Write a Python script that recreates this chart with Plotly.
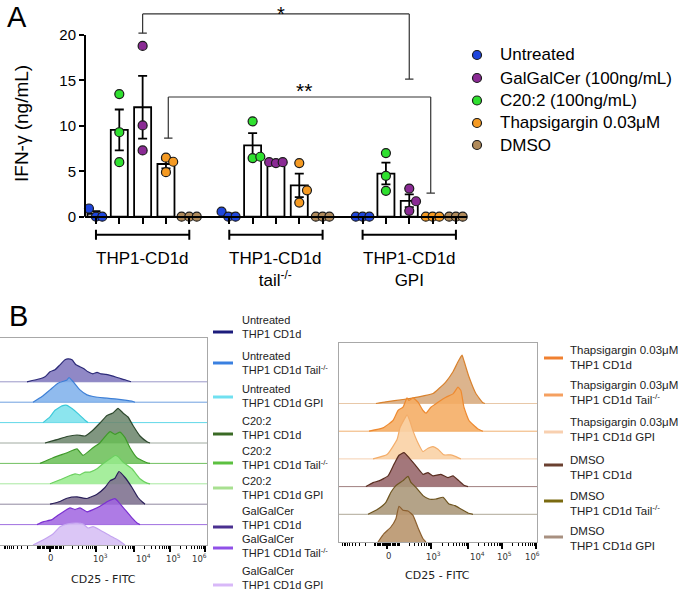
import math
import plotly.graph_objects as go

W, H = 678, 590
FONT = "Liberation Sans, Arial, sans-serif"


def fx(p):
    return p / W


def fy(p):
    return 1 - p / H


# ---------------- Panel A data ----------------
group_labels = ["THP1-CD1d", "THP1-CD1d<br>tail<sup>-/-</sup>", "THP1-CD1d<br>GPI"]
treatments = ["Untreated", "C20:2 (100ng/mL)", "GalGalCer (100ng/mL)", "Thapsigargin 0.03μM", "DMSO"]
treat_colors = ["#1f46dc", "#2fe02f", "#8a2a94", "#f59a22", "#b08a5a"]
legend_order = ["Untreated", "GalGalCer (100ng/mL)", "C20:2 (100ng/mL)", "Thapsigargin 0.03μM", "DMSO"]

mean_untreated = [0.30, 0.18, 0.00]
mean_c202 = [9.55, 7.85, 4.75]
mean_galgal = [12.05, 5.95, 1.75]
mean_thaps = [5.80, 3.45, 0.00]
mean_dmso = [0.00, 0.00, 0.00]

sem_untreated = [0.30, 0.18, 0.00]
sem_c202 = [2.25, 1.35, 1.20]
sem_galgal = [3.45, 0.05, 0.70]
sem_thaps = [0.48, 1.30, 0.00]
sem_dmso = [0.00, 0.00, 0.00]

pts_untreated = [[0.90, 0.0, 0.0], [0.55, 0.0, 0.0], [0.0, 0.0, 0.0]]
pts_c202 = [[13.5, 9.3, 6.0], [10.5, 6.45, 6.6], [7.0, 4.5, 2.85]]
pts_galgal = [[18.8, 10.05, 7.3], [6.0, 5.9, 6.0], [3.1, 1.7, 0.65]]
pts_thaps = [[6.5, 6.05, 4.9], [5.9, 2.9, 1.55], [0.0, 0.0, 0.0]]
pts_dmso = [[0.0, 0.0, 0.0], [0.0, 0.0, 0.0], [0.0, 0.0, 0.0]]

jit_untreated = [[-0.30, 0.0, 0.27], [-0.33, -0.04, 0.27], [-0.29, 0.0, 0.29]]
jit_c202 = [[0.0, 0.0, 0.0], [0.0, 0.0, 0.33], [0.0, 0.0, 0.0]]
jit_galgal = [[0.0, 0.0, 0.0], [-0.29, 0.0, 0.29], [0.0, 0.29, 0.0]]
jit_thaps = [[0.0, 0.31, 0.0], [0.0, 0.33, 0.0], [-0.29, 0.0, 0.29]]
jit_dmso = [[-0.33, 0.0, 0.32], [-0.29, 0.0, 0.29], [-0.29, 0.0, 0.29]]

means = [mean_untreated, mean_c202, mean_galgal, mean_thaps, mean_dmso]
sems = [sem_untreated, sem_c202, sem_galgal, sem_thaps, sem_dmso]
points = [pts_untreated, pts_c202, pts_galgal, pts_thaps, pts_dmso]
jitters = [jit_untreated, jit_c202, jit_galgal, jit_thaps, jit_dmso]

sig_labels = ["*", "**"]

# ---------------- Panel B data (CD25-FITC display channel vs. count) ----------------
left_names = ["Untreated<br>THP1 CD1d", "Untreated<br>THP1 CD1d Tail<sup>-/-</sup>", "Untreated<br>THP1 CD1d GPI",
              "C20:2<br>THP1 CD1d", "C20:2<br>THP1 CD1d Tail<sup>-/-</sup>", "C20:2<br>THP1 CD1d GPI",
              "GalGalCer<br>THP1 CD1d", "GalGalCer<br>THP1 CD1d Tail<sup>-/-</sup>", "GalGalCer<br>THP1 CD1d GPI"]
left_x = [
    [135, 200, 225, 250, 275, 300, 325, 340, 360, 380, 400, 420, 440, 465, 485, 505, 530, 560, 590, 625, 655],
    [165, 210, 250, 290, 335, 345, 365, 400, 435, 465, 500, 535, 575, 615, 665, 675],
    [215, 250, 275, 310, 335, 360, 390, 425, 440],
    [225, 285, 335, 385, 425, 460, 500, 535, 565, 590, 615, 640, 665, 700, 735, 750],
    [200, 265, 335, 385, 415, 465, 500, 535, 550, 575, 600, 625, 650, 685, 735, 750],
    [250, 300, 350, 375, 400, 425, 450, 485, 515, 550, 575, 590, 615, 660, 700, 735, 750],
    [250, 300, 335, 385, 435, 485, 525, 550, 575, 595, 625, 660, 690, 715, 725],
    [185, 215, 260, 290, 315, 350, 375, 400, 435, 465, 500, 540, 575, 590, 625, 660, 685, 700],
    [165, 215, 265, 300, 335, 385, 415, 440, 465, 500, 550, 590, 625],
]
left_h = [
    [0, 3, 5, 10, 12, 17, 22, 23, 22, 17, 15, 13, 10, 8, 9.5, 8, 7.5, 6, 4, 2, 0],
    [0, 5.7, 12.3, 19, 22.3, 24.7, 20.7, 12.3, 7.3, 5.7, 4.7, 4, 3.3, 2.3, 0.7, 0],
    [0, 5.7, 12.3, 16.7, 17.3, 14, 9, 2.3, 0],
    [0, 3.3, 6.5, 8, 7, 12, 20, 27.5, 30, 34.7, 30, 26, 17.5, 7, 1.3, 0],
    [0, 5.7, 10.7, 14.5, 8, 15.7, 20.7, 29, 31.7, 29, 31.3, 25.7, 15.7, 5.7, 0.7, 0],
    [0, 4, 8.3, 10, 9, 11.7, 11.7, 15, 20, 25, 28.3, 27.3, 21.7, 15, 5, 0.7, 0],
    [0, 2.7, 6, 7.3, 5.7, 10, 16.7, 23.3, 26, 32.7, 26.7, 16.7, 6.7, 1.7, 0],
    [0, 2.7, 5, 9.3, 12.7, 16.7, 15, 16.7, 12.7, 15, 18.3, 23.3, 26, 23.3, 15, 6.7, 1.7, 0],
    [0, 5, 11, 18.3, 21, 22, 21, 17, 18.3, 15, 9.3, 5, 0],
]
left_line_colors = ["#2c2a78", "#3d7fd6", "#3cc9d9", "#2f4a2f", "#3f9a2a", "#6cd060", "#2a1f5a", "#7a30d0", "#c4a4f0"]
left_fill_colors = ["rgba(125,115,188,0.85)", "rgba(125,175,235,0.85)", "rgba(120,225,235,0.85)",
                    "rgba(110,135,110,0.88)", "rgba(105,190,85,0.85)", "rgba(150,235,140,0.85)",
                    "rgba(125,112,142,0.88)", "rgba(160,100,225,0.85)", "rgba(215,192,245,0.9)"]
left_base_colors = ["#9a98c8", "#6ea0e0", "#60d8e8", "#a0aaa0", "#70c060", "#a8e8a0", "#9088a0", "#a070e0", "#a0a0a0"]
left_swatch_colors = ["#1c1c7c", "#3a80e0", "#70e0f0", "#3a6a25", "#5cc040", "#a8e090", "#4a3090", "#9050e8", "#d8b8f8"]

right_names = ["Thapsigargin 0.03μM<br>THP1 CD1d", "Thapsigargin 0.03μM<br>THP1 CD1d Tail<sup>-/-</sup>",
               "Thapsigargin 0.03μM<br>THP1 CD1d GPI", "DMSO<br>THP1 CD1d",
               "DMSO<br>THP1 CD1d Tail<sup>-/-</sup>", "DMSO<br>THP1 CD1d GPI"]
right_x = [
    [192, 244, 333, 416, 489, 520, 556, 593, 619, 640, 650, 676, 712, 749, 759],
    [156, 229, 281, 307, 333, 354, 364, 385, 411, 437, 452, 478, 515, 556, 593, 619, 634, 650, 676, 723, 749],
    [177, 250, 302, 317, 338, 354, 369, 385, 406, 437, 463, 489, 515, 546, 582, 608, 634],
    [140, 177, 208, 255, 286, 312, 338, 364, 400, 437, 463, 489, 530, 567, 593, 624, 650, 671],
    [151, 203, 244, 270, 296, 333, 359, 374, 400, 437, 468, 504, 541, 572, 603, 634, 671, 697],
    [203, 234, 270, 296, 312, 333, 359, 385, 411, 437, 452],
]
right_h = [
    [0, 1.7, 4, 6.7, 10, 15, 21.7, 31.7, 41.7, 48.3, 42.7, 26.7, 10, 0.7, 0],
    [0, 3.3, 10.7, 20.7, 24, 33.3, 30.7, 33.3, 29, 20.7, 18, 24, 29, 34, 37.3, 44, 40.7, 24, 10.7, 2.3, 0],
    [0, 4.3, 19.3, 31, 39, 44, 37.7, 28, 18, 7.3, 10.7, 12.3, 9.7, 4, 4, 2.3, 0],
    [0, 4, 5.7, 10.7, 22.3, 31.3, 34, 29, 20.7, 12.3, 14, 10.7, 12.3, 9, 10.7, 5.7, 1.3, 0],
    [0, 5.3, 12, 22, 28.7, 33.7, 38, 32, 27, 18.7, 15.3, 15.3, 17, 10.3, 8.7, 5.3, 1.3, 0],
    [0, 8.3, 15, 23.3, 35.7, 31.7, 31, 26.7, 14.3, 3.3, 0],
]
right_line_colors = ["#d9822e", "#ee8a30", "#f3ad6a", "#5a2e20", "#6e5520", "#8c6030"]
right_fill_colors = ["rgba(215,170,125,0.88)", "rgba(245,172,98,0.88)", "rgba(250,210,165,0.9)",
                     "rgba(150,100,105,0.88)", "rgba(170,150,120,0.88)", "rgba(185,150,110,0.9)"]
right_base_colors = ["#e8c8a8", "#f0b070", "#f5d0b0", "#a08080", "#b0a898", "#a0a0a0"]
right_swatch_colors = ["#f08030", "#f5a060", "#f8d0b0", "#6a4030", "#7a6a10", "#a89080"]

cd25_tick_text = ["0", "10<sup>3</sup>", "10<sup>4</sup>", "10<sup>5</sup>", "10<sup>6</sup>"]
cd25_tick_vals = [250, 480, 670, 850, 1025]

fig = go.Figure()

# ---------------- Panel A ----------------
GAP = 0.714
pos = [[g * (5 + GAP) + s for g in range(3)] for s in range(5)]

for t in range(5):
    fig.add_trace(go.Bar(
        x=pos[t], y=means[t], width=0.73,
        marker=dict(color="white", line=dict(color="black", width=1.8)),
        error_y=dict(type="data", array=sems[t], color="black", thickness=1.8, width=4.5),
        xaxis="x", yaxis="y", hoverinfo="skip", showlegend=False))

for t in range(5):
    xs, ys = [], []
    for g in range(3):
        for k in range(3):
            xs.append(pos[t][g] + jitters[t][g][k])
            ys.append(points[t][g][k])
    fig.add_trace(go.Scatter(
        x=xs, y=ys, mode="markers", cliponaxis=False,
        marker=dict(size=9, color=treat_colors[t], line=dict(color="#1a1a1a", width=1.2)),
        xaxis="x", yaxis="y", hoverinfo="skip", showlegend=False))

shapes = []
annotations = []

shapes.append(dict(type="line", xref="x domain", yref="y", x0=0, x1=0, y0=0, y1=20,
                   line=dict(color="black", width=2)))
for g in range(3):
    a, b = pos[0][g], pos[4][g]
    shapes.append(dict(type="line", xref="x", yref="y", x0=a, x1=b, y0=-2.0, y1=-2.0,
                       line=dict(color="black", width=2)))
    for e in (a, b):
        shapes.append(dict(type="line", xref="x", yref="y", x0=e, x1=e, y0=-2.55, y1=-1.45,
                           line=dict(color="black", width=2)))
    annotations.append(dict(x=pos[2][g], y=-3.3, xref="x", yref="y", text=group_labels[g],
                            showarrow=False, xanchor="center", yanchor="top",
                            font=dict(family=FONT, size=17, color="black")))

sig_lines = [
    (pos[2][0], pos[2][2], 22.32, 20.2, 15.15),
    (pos[3][0] + 0.1, pos[3][2] - 0.08, 13.18, 8.65, 2.6),
]
for idx, ((xa, xb, ytop, ya, yb), lab) in enumerate(zip(sig_lines, sig_labels)):
    c = "#333333"
    shapes.append(dict(type="line", xref="x", yref="y", x0=xa, x1=xb, y0=ytop, y1=ytop, line=dict(color=c, width=1.2)))
    shapes.append(dict(type="line", xref="x", yref="y", x0=xa, x1=xa, y0=ytop, y1=ya, line=dict(color=c, width=1.2)))
    shapes.append(dict(type="line", xref="x", yref="y", x0=xb, x1=xb, y0=ytop, y1=yb, line=dict(color=c, width=1.2)))
    shapes.append(dict(type="line", xref="x", yref="y", x0=xa - 0.18, x1=xa + 0.18, y0=ya, y1=ya, line=dict(color=c, width=1.2)))
    shapes.append(dict(type="line", xref="x", yref="y", x0=xb - 0.18, x1=xb + 0.18, y0=yb, y1=yb, line=dict(color=c, width=1.2)))
    if idx == 0:
        annotations.append(dict(x=(xa + xb) / 2 + 0.2, y=fy(0), xref="x", yref="paper", text=lab,
                                showarrow=False, xanchor="center", yanchor="top", yshift=-1,
                                font=dict(family=FONT, size=20, color="black")))
    else:
        annotations.append(dict(x=(xa + xb) / 2 + 0.2, y=ytop, xref="x", yref="y", text=lab, showarrow=False,
                                xanchor="center", yanchor="bottom", yshift=-7,
                                font=dict(family=FONT, size=21, color="black")))

annotations.append(dict(x=fx(21), y=fy(124), xref="paper", yref="paper", text="IFN-γ (ng/mL)",
                        textangle=-90, showarrow=False, xanchor="center", yanchor="middle",
                        font=dict(family=FONT, size=19, color="black")))
annotations.append(dict(x=fx(17), y=fy(17), xref="paper", yref="paper", text="A", showarrow=False,
                        xanchor="center", yanchor="middle", font=dict(family=FONT, size=29, color="black")))
annotations.append(dict(x=fx(18), y=fy(316), xref="paper", yref="paper", text="B", showarrow=False,
                        xanchor="center", yanchor="middle", font=dict(family=FONT, size=29, color="black")))

leg_y = [55, 78, 100.5, 123, 145]
for i, name in enumerate(legend_order):
    t = treatments.index(name)
    shapes.append(dict(type="circle", xref="paper", yref="paper", xsizemode="pixel", ysizemode="pixel",
                       xanchor=fx(477), yanchor=fy(leg_y[i]), x0=-4.5, x1=4.5, y0=-4.5, y1=4.5,
                       fillcolor=treat_colors[t], line=dict(color="#1a1a1a", width=1.2)))
    annotations.append(dict(x=fx(498), y=fy(leg_y[i]), xref="paper", yref="paper", text=name,
                            showarrow=False, xanchor="left", yanchor="middle",
                            font=dict(family=FONT, size=17, color="black")))

# ---------------- Panel B ----------------
L_SP = 20.4
R_SP = 27.7
nL, nR = len(left_x), len(right_x)
for i in range(nL):
    b = (nL - 1 - i) * L_SP
    if i < nL - 1:
        fig.add_trace(go.Scatter(x=[0, 1035], y=[b, b], mode="lines", line=dict(color=left_base_colors[i], width=1),
                                 xaxis="x2", yaxis="y2", hoverinfo="skip", showlegend=False))
    fig.add_trace(go.Scatter(x=left_x[i], y=[b + h for h in left_h[i]], mode="lines", fill="toself",
                             fillcolor=left_fill_colors[i], line=dict(color=left_line_colors[i], width=1.2,
                                                                      shape="spline", smoothing=0.4),
                             xaxis="x2", yaxis="y2", hoverinfo="skip", showlegend=False))
for i in range(nR):
    b = (nR - 1 - i) * R_SP
    if i < nR - 1:
        fig.add_trace(go.Scatter(x=[0, 1030], y=[b, b], mode="lines", line=dict(color=right_base_colors[i], width=1),
                                 xaxis="x3", yaxis="y3", hoverinfo="skip", showlegend=False))
    fig.add_trace(go.Scatter(x=right_x[i], y=[b + h for h in right_h[i]], mode="lines", fill="toself",
                             fillcolor=right_fill_colors[i], line=dict(color=right_line_colors[i], width=1.2,
                                                                       shape="spline", smoothing=0.4),
                             xaxis="x3", yaxis="y3", hoverinfo="skip", showlegend=False))

minor = []
dec = [315, 480, 670, 850, 1025]
for a, b in zip(dec[:-1], dec[1:]):
    for m in range(2, 10):
        minor.append(a + math.log10(m) * (b - a))
for k in range(1, 10):
    minor.append(250 + k * 6.5)
    minor.append(250 - k * 6.5)
for m in range(2, 10):
    minor.append(185 - math.log10(m) * 165)
minor += [185, 315, 20]

for ax, xs_lab, ylab, ytit, xtit in [
    ("x2", [250, 500, 715, 865, 995], 558, 579, 103),
    ("x3", [255, 494, 723, 863, 1004], 556, 575, 437),
]:
    for v, t in zip(xs_lab, cd25_tick_text):
        annotations.append(dict(x=v, y=fy(ylab), xref=ax, yref="paper", text=t, showarrow=False,
                                xanchor="center", yanchor="middle",
                                font=dict(family="DejaVu Sans, sans-serif", size=8.5, color="#333333")))
    annotations.append(dict(x=fx(xtit), y=fy(ytit), xref="paper", yref="paper", text="CD25 - FITC",
                            showarrow=False, xanchor="center", yanchor="middle",
                            font=dict(family="DejaVu Sans, sans-serif", size=11, color="#222222")))

left_sw_y = [332, 363, 397, 434, 463, 488, 527, 548, 585]
left_tx_y = [326.5, 362.5, 395.5, 427.5, 457.5, 487.5, 518, 546, 578]
for i in range(nL):
    shapes.append(dict(type="line", xref="paper", yref="paper", x0=fx(213), x1=fx(233),
                       y0=fy(left_sw_y[i]), y1=fy(left_sw_y[i]), line=dict(color=left_swatch_colors[i], width=3)))
    annotations.append(dict(x=fx(240), y=fy(left_tx_y[i]), xref="paper", yref="paper", text=left_names[i],
                            showarrow=False, xanchor="left", yanchor="middle", align="left",
                            font=dict(family=FONT, size=11, color="#222222")))
right_sw_y = [358, 395, 432, 465, 501, 537]
right_tx_y = [357.5, 392.5, 429, 467.5, 503.5, 538]
for i in range(nR):
    shapes.append(dict(type="line", xref="paper", yref="paper", x0=fx(544), x1=fx(563),
                       y0=fy(right_sw_y[i]), y1=fy(right_sw_y[i]), line=dict(color=right_swatch_colors[i], width=3)))
    annotations.append(dict(x=fx(568), y=fy(right_tx_y[i]), xref="paper", yref="paper", text=right_names[i],
                            showarrow=False, xanchor="left", yanchor="middle", align="left",
                            font=dict(family=FONT, size=11.5, color="#222222")))

A_PX0, A_PX1 = 85, 466.7
Y0PX, YSC = 216.7, 9.083
ya_lo, ya_hi = -9, 23

common_b_x = dict(showline=True, linecolor="#a8a8a8", linewidth=1, mirror=True, ticks="outside",
                  tickvals=cd25_tick_vals, ticklen=6, tickwidth=1.6, tickcolor="black", showticklabels=False,
                  minor=dict(tickmode="array", tickvals=minor, ticklen=3, tickwidth=1.4, tickcolor="black",
                             ticks="outside"),
                  showgrid=False, zeroline=False, fixedrange=True)
common_b_y = dict(showline=True, linecolor="#a8a8a8", linewidth=1, mirror=True, ticks="",
                  showticklabels=False, showgrid=False, zeroline=False, fixedrange=True)

fig.update_layout(
    width=W, height=H, margin=dict(l=0, r=0, t=0, b=0),
    paper_bgcolor="white", plot_bgcolor="rgba(0,0,0,0)",
    showlegend=False, barmode="overlay",
    font=dict(family=FONT, color="black"),
    xaxis=dict(domain=[fx(A_PX0), fx(A_PX1)], range=[-0.47, 15.89], anchor="free",
               position=fy(Y0PX), showline=True, linewidth=2, linecolor="black",
               ticks="outside", tickvals=[p for row in pos for p in row], ticklen=6, tickwidth=2,
               tickcolor="black", showticklabels=False, showgrid=False, zeroline=False),
    yaxis=dict(domain=[fy(Y0PX - ya_lo * YSC), fy(Y0PX - ya_hi * YSC)], range=[ya_lo, ya_hi],
               anchor="x", tickvals=[0, 5, 10, 15, 20], ticks="outside", ticklen=5, tickwidth=2,
               tickcolor="black", showline=False, showgrid=False, zeroline=False,
               tickfont=dict(family=FONT, size=15, color="black")),
    xaxis2=dict(domain=[fx(0), fx(207)], range=[0, 1035], anchor="y2", **common_b_x),
    yaxis2=dict(domain=[fy(545), fy(338)], range=[0, 207], anchor="x2", **common_b_y),
    xaxis3=dict(domain=[fx(339), fx(537)], range=[0, 1030], anchor="y3", **common_b_x),
    yaxis3=dict(domain=[fy(542), fy(343)], range=[0, 199], anchor="x3", **common_b_y),
    shapes=shapes, annotations=annotations,
)

fig.write_html("out.html", config={"displayModeBar": False},
               post_script="document.body.style.margin='0px';document.body.style.padding='0px';"
                           "document.body.style.overflow='hidden';")
